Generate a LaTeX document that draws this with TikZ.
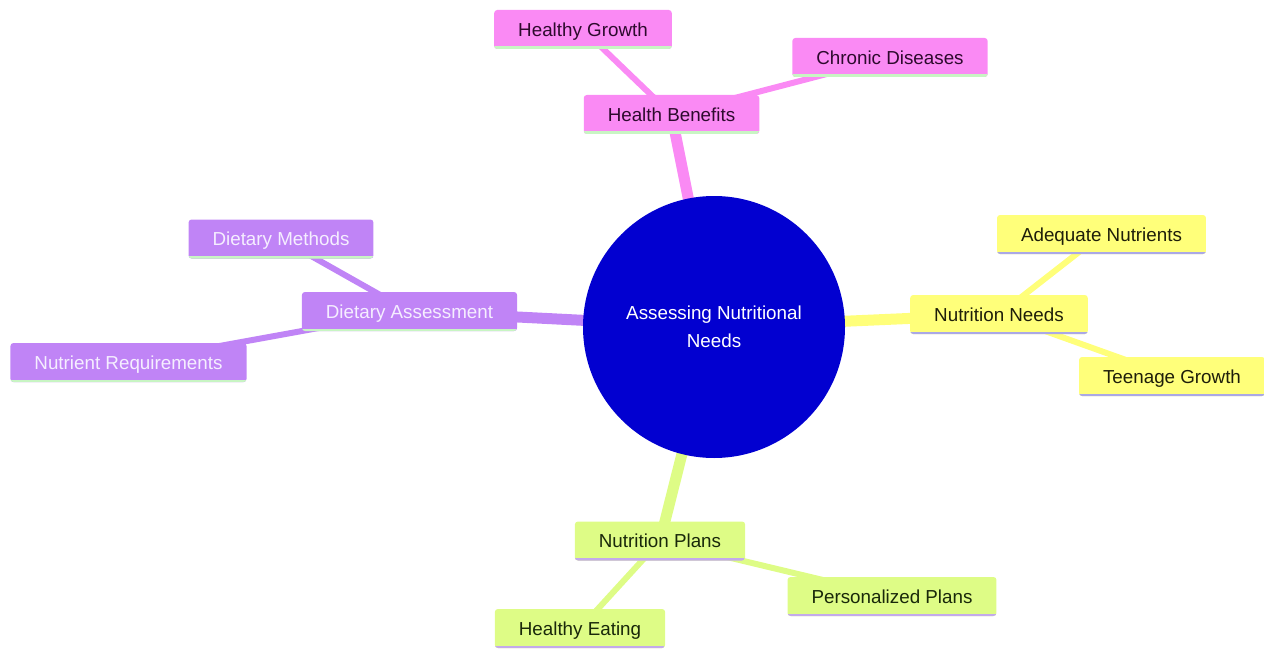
\documentclass[tikz,border=0pt]{standalone}
\usepackage{fontspec}
\setmainfont{Liberation Sans}
\pgfdeclarelayer{background}
\pgfsetlayers{background,main}
\definecolor{cpink}{RGB}{250,138,244}
\definecolor{cpurple}{RGB}{192,132,246}
\definecolor{cyellow}{RGB}{255,255,122}
\definecolor{cgreen}{RGB}{222,252,134}
\definecolor{cblue}{RGB}{2,0,208}
\definecolor{lgreen}{RGB}{200,245,195}
\definecolor{lav}{RGB}{170,168,230}
\definecolor{lavg}{RGB}{195,170,235}
\tikzset{
  x=1pt,y=-1pt,
  every node/.style={font=\fontsize{18.8}{28}\selectfont},
  box/.style={rectangle, rounded corners=3pt, minimum height=39pt, inner xsep=24pt, inner ysep=0pt, text height=15.5pt, text depth=2pt},
  underline/.style={path picture={\draw[line width=5pt,#1] (path picture bounding box.south west) -- (path picture bounding box.south east);}},
  pinkbox/.style={box, fill=cpink, text={rgb,255:red,45;green,10;blue,45}, underline=lgreen},
  purplebox/.style={box, fill=cpurple, text={rgb,255:red,245;green,238;blue,255}, underline=lgreen},
  yellowbox/.style={box, fill=cyellow, text={rgb,255:red,30;green,30;blue,10}, underline=lav},
  greenbox/.style={box, fill=cgreen, text={rgb,255:red,25;green,40;blue,10}, underline=lavg},
  edgeone/.style={line width=11pt},
  edgetwo/.style={line width=6pt},
}
\begin{document}
\begin{tikzpicture}
\useasboundingbox (0,0) rectangle (1264,650);
\node[circle, fill=cblue, minimum size=262pt, inner sep=0pt, text=white, align=center] (root) at (714,327) {Assessing Nutritional\\Needs};

\node[pinkbox] (hb) at (671.5,114.5) {Health Benefits};
\node[pinkbox] (hg) at (583,29.5) {Healthy Growth};
\node[pinkbox] (cd) at (890,57.5) {Chronic Diseases};

\node[purplebox] (da) at (409.5,311.5) {Dietary Assessment};
\node[purplebox] (dm) at (281,239) {Dietary Methods};
\node[purplebox] (nr) at (128.5,362.5) {Nutrient Requirements};

\node[yellowbox] (nn) at (999,314.5) {Nutrition Needs};
\node[yellowbox] (an) at (1101.5,234.5) {Adequate Nutrients};
\node[yellowbox] (tg) at (1172,376.5) {Teenage Growth};

\node[greenbox] (np) at (660,541) {Nutrition Plans};
\node[greenbox] (pp) at (892,596.5) {Personalized Plans};
\node[greenbox] (he) at (580,628.5) {Healthy Eating};

\begin{pgfonlayer}{background}
\draw[edgeone, cpink] (root.center) -- (hb.center);
\draw[edgetwo, cpink] (hb.center) -- (hg.center);
\draw[edgetwo, cpink] (hb.center) -- (cd.center);
\draw[edgeone, cpurple] (root.center) -- (da.center);
\draw[edgetwo, cpurple] (da.center) -- (dm.center);
\draw[edgetwo, cpurple] (da.center) -- (nr.center);
\draw[edgeone, cyellow] (root.center) -- (nn.center);
\draw[edgetwo, cyellow] (nn.center) -- (an.center);
\draw[edgetwo, cyellow] (nn.center) -- (tg.center);
\draw[edgeone, cgreen] (root.center) -- (np.center);
\draw[edgetwo, cgreen] (np.center) -- (pp.center);
\draw[edgetwo, cgreen] (np.center) -- (he.center);
\end{pgfonlayer}
\end{tikzpicture}
\end{document}
